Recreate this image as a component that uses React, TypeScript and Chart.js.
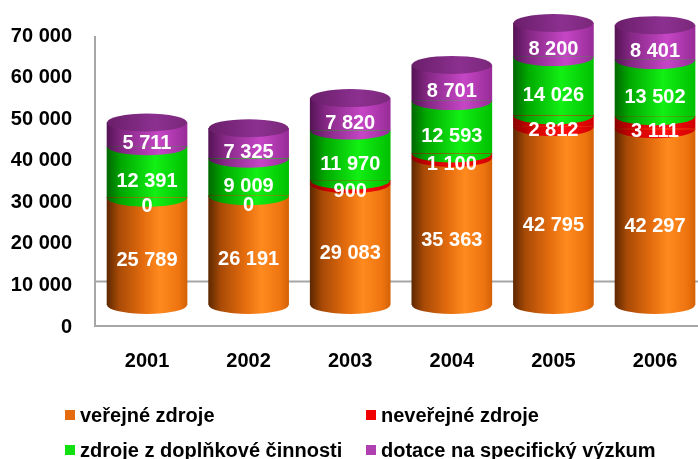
import React, { useEffect, useRef } from "react";
import { Chart, registerables } from "chart.js";

Chart.register(...registerables);

const years = ["2001", "2002", "2003", "2004", "2005", "2006"];
const verejne = [25789, 26191, 29083, 35363, 42795, 42297];
const neverejne = [0, 0, 900, 1100, 2812, 3111];
const doplnkove = [12391, 9009, 11970, 12593, 14026, 13502];
const dotace = [5711, 7325, 7820, 8701, 8200, 8401];
const yTicks = [0, 10000, 20000, 30000, 40000, 50000, 60000, 70000];
const legendLabels = [
  "veřejné zdroje",
  "neveřejné zdroje",
  "zdroje z doplňkové činnosti",
  "dotace na specifický výzkum",
];

const FONT = "'Liberation Sans', Arial, sans-serif";
const BAR_W = 80;
const RY = 9;

const stops: [number, string][][] = [
  [[0, "#5E2800"], [0.15, "#A84A06"], [0.45, "#E46C0E"], [0.66, "#FF8A1E"], [0.9, "#EE7410"], [1, "#D46206"]],
  [[0, "#8A0000"], [0.2, "#C80000"], [0.62, "#FF1010"], [1, "#D00000"]],
  [[0, "#006800"], [0.18, "#00A800"], [0.6, "#12F014"], [1, "#00C000"]],
  [[0, "#561456"], [0.2, "#862886"], [0.65, "#C646C6"], [1, "#982C98"]],
];
const solid = ["#E46C0E", "#F00000", "#10E010", "#B040B0"];
const capStops: [number, string][] = [[0, "#6A1E6A"], [0.6, "#8C3090"], [1, "#7A287A"]];

function grad(ctx: CanvasRenderingContext2D, cx: number, s: [number, string][]) {
  const g = ctx.createLinearGradient(cx - BAR_W / 2, 0, cx + BAR_W / 2, 0);
  s.forEach(([p, c]) => g.addColorStop(p, c));
  return g;
}

function fmt(v: number) {
  return String(v).replace(/\B(?=(\d{3})+(?!\d))/g, " ");
}

const wallPlugin = {
  id: "wall",
  beforeDatasetsDraw(chart: any) {
    const { ctx, chartArea, scales } = chart;
    const y = scales.y;
    ctx.save();
    ctx.strokeStyle = "#A6A6A6";
    ctx.lineWidth = 2;
    ctx.beginPath();
    ctx.moveTo(chartArea.left, y.getPixelForValue(70000) + 22);
    ctx.lineTo(chartArea.left, y.getPixelForValue(0) + 21);
    ctx.lineTo(chart.width, y.getPixelForValue(0) + 21);
    ctx.moveTo(chartArea.left, y.getPixelForValue(10000) + 18);
    ctx.lineTo(chart.width, y.getPixelForValue(10000) + 18);
    ctx.stroke();
    ctx.restore();
  },
};

const cylinderPlugin = {
  id: "cylinder",
  afterDatasetsDraw(chart: any) {
    const { ctx } = chart;
    const n = chart.data.datasets.length;
    ctx.save();
    for (let d = 0; d < n; d++) {
      const meta = chart.getDatasetMeta(d);
      meta.data.forEach((bar: any, i: number) => {
        const v = chart.data.datasets[d].data[i].y;
        if (!v) return;
        const w = bar.width / 2;
        ctx.fillStyle = grad(ctx, bar.x, stops[d]);
        ctx.beginPath();
        ctx.ellipse(bar.x, bar.base, w, RY, 0, 0, Math.PI);
        ctx.closePath();
        ctx.fill();
      });
    }
    const top = chart.getDatasetMeta(n - 1);
    top.data.forEach((bar: any) => {
      ctx.fillStyle = grad(ctx, bar.x, capStops);
      ctx.beginPath();
      ctx.ellipse(bar.x, bar.y, bar.width / 2, RY, 0, 0, Math.PI * 2);
      ctx.fill();
    });
    ctx.fillStyle = "#FFFFFF";
    ctx.font = `bold 20px ${FONT}`;
    ctx.textAlign = "center";
    ctx.textBaseline = "middle";
    for (let d = 0; d < n; d++) {
      const meta = chart.getDatasetMeta(d);
      meta.data.forEach((bar: any, i: number) => {
        const v = chart.data.datasets[d].data[i].y;
        const yc = (bar.y + bar.base) / 2 + RY;
        ctx.fillText(fmt(v), bar.x, yc);
      });
    }
    ctx.restore();
  },
};

const legendPlugin = {
  id: "customLegend",
  afterDraw(chart: any) {
    const { ctx } = chart;
    const cols = [65, 366];
    const rows = [415, 450];
    ctx.save();
    ctx.font = `bold 20px ${FONT}`;
    ctx.textBaseline = "middle";
    ctx.textAlign = "left";
    legendLabels.forEach((t, k) => {
      const x = cols[k % 2];
      const y = rows[Math.floor(k / 2)];
      ctx.fillStyle = solid[k];
      ctx.fillRect(x, y - 5, 10, 10);
      ctx.fillStyle = "#000000";
      ctx.fillText(t, x + 15, y + 1);
    });
    ctx.restore();
  },
};

export default function App() {
  const ref = useRef<HTMLCanvasElement>(null);
  useEffect(() => {
    if (!ref.current) return;
    const series = [verejne, neverejne, doplnkove, dotace];
    const chart = new Chart(ref.current, {
      type: "bar",
      data: {
        datasets: series.map((s, d) => ({
          label: legendLabels[d],
          data: s.map((v, i) => ({ x: i, y: v })),
          stack: "s",
          barThickness: BAR_W,
          borderWidth: 0,
          backgroundColor: (c: any) => {
            const sx = c.chart.scales && c.chart.scales.x;
            if (!sx || typeof c.dataIndex !== "number") return solid[d];
            const px = sx.getPixelForValue(c.dataIndex);
            if (!isFinite(px)) return solid[d];
            return grad(c.chart.ctx, px, stops[d]);
          },
        })),
      },
      options: {
        responsive: false,
        animation: false,
        layout: { padding: { top: 14, right: 0, left: 0, bottom: 0 } },
        plugins: { legend: { display: false }, tooltip: { enabled: false } },
        scales: {
          x: {
            type: "linear",
            stacked: true,
            offset: false,
            min: -0.512,
            max: 5.423,
            grid: { display: false, drawTicks: false, offset: false },
            border: { display: false },
            afterBuildTicks: (s: any) => {
              s.ticks = years.map((_, i) => ({ value: i }));
            },
            afterFit: (s: any) => {
              s.height = 154;
              s.paddingLeft = 0;
              s.paddingRight = 0;
            },
            ticks: {
              padding: 44,
              color: "#000000",
              font: { family: FONT, size: 20, weight: "bold" },
              callback: (v: any) => years[v as number] ?? "",
            },
          },
          y: {
            stacked: true,
            min: 0,
            max: 70000,
            grid: { display: false, drawTicks: false },
            border: { display: false },
            afterBuildTicks: (s: any) => {
              s.ticks = yTicks.map((v) => ({ value: v }));
            },
            afterFit: (s: any) => {
              s.width = 95;
              s.paddingTop = 0;
              s.paddingBottom = 0;
            },
            ticks: {
              padding: 23,
              labelOffset: 22,
              color: "#000000",
              font: { family: FONT, size: 20, weight: "bold" },
              callback: (v: any) => fmt(v as number),
            },
          },
        },
      },
      plugins: [wallPlugin, cylinderPlugin, legendPlugin],
    } as any);
    return () => chart.destroy();
  }, []);
  return (
    <div style={{ position: "absolute", left: 0, top: 0, width: 698, height: 459, background: "#FFFFFF" }}>
      <canvas ref={ref} width={698} height={459} />
    </div>
  );
}
